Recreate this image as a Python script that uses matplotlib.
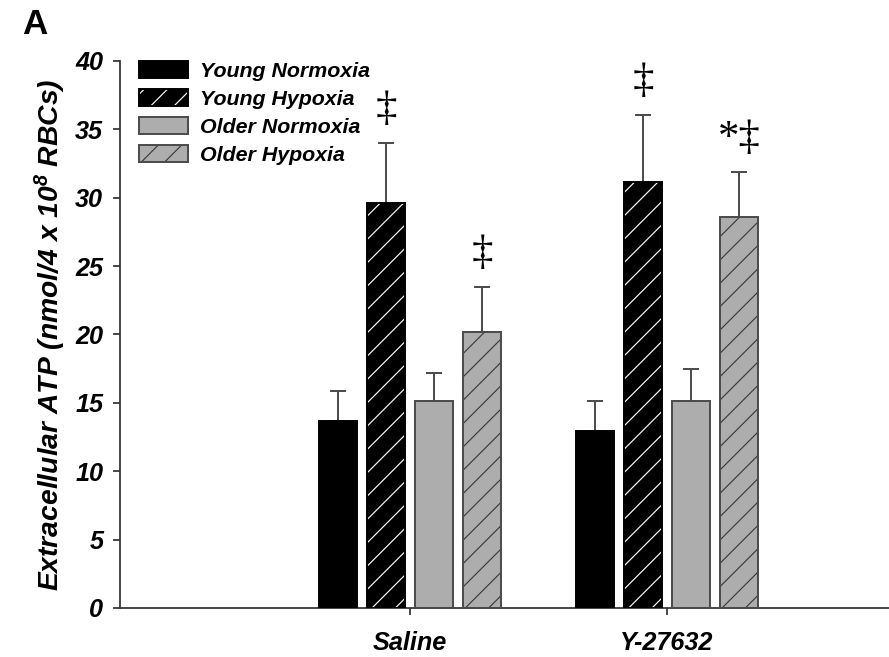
import matplotlib
matplotlib.use("Agg")
import matplotlib.pyplot as plt
import matplotlib.patches as mpatches
import numpy as np

groups = ["Saline", "Y-27632"]
series = ["Young Normoxia", "Young Hypoxia", "Older Normoxia", "Older Hypoxia"]
young_norm = [13.7, 12.95]
young_norm_err = [2.2, 2.2]
young_hyp = [29.6, 31.15]
young_hyp_err = [4.4, 4.9]
older_norm = [15.1, 15.1]
older_norm_err = [2.1, 2.4]
older_hyp = [20.2, 28.6]
older_hyp_err = [3.3, 3.3]
young_hyp_marks = ["\u2021", "\u2021"]
older_hyp_marks = ["\u2021", "*\u2021"]

plt.rcParams["font.family"] = ["Liberation Sans", "DejaVu Sans"]
plt.rcParams["hatch.linewidth"] = 0.6
plt.rcParams["mathtext.default"] = "regular"

DPI = 140
fig = plt.figure(figsize=(889 / DPI, 657 / DPI), dpi=DPI)
ax = fig.add_axes([0.135, 0.0746, 0.865, 0.8326])

x = np.arange(1, len(groups) + 1)
width = 0.148
offsets = [-0.28, -0.093, 0.093, 0.28]
gray = "#adadad"
styles = [
    # face, hatch colour, hatch, outline
    ("black", "black", "", "black"),
    ("black", "white", "//", "black"),
    (gray, gray, "", "#4a4a4a"),
    (gray, "#3a3a3a", "//", "#4a4a4a"),
]
values = [young_norm, young_hyp, older_norm, older_hyp]
errors = [young_norm_err, young_hyp_err, older_norm_err, older_hyp_err]

handles = []
for (face, hcol, hatch, edge), vals, errs, off in zip(styles, values, errors, offsets):
    pos = x + off
    ax.bar(pos, vals, width, color=face, edgecolor=hcol, hatch=hatch, linewidth=0, zorder=2)
    ax.bar(pos, vals, width, fill=False, edgecolor=edge, linewidth=1.0, zorder=3)
    ax.errorbar(pos, vals, yerr=[np.zeros(len(errs)), errs], fmt="none",
                ecolor="#4a4a4a", elinewidth=1.0, capsize=4.2, capthick=1.0, zorder=1)
    handles.append((mpatches.Patch(facecolor=face, edgecolor=hcol, hatch=hatch, linewidth=0),
                    mpatches.Patch(fill=False, edgecolor=edge, linewidth=1.0)))

def mark(vals, errs, labels, off):
    for xi, v, e, lab in zip(x + off, vals, errs, labels):
        ax.annotate(lab, (xi, v + e), xytext=(0, 7), textcoords="offset points",
                    ha="center", va="bottom", fontsize=22,
                    family=["Liberation Serif", "DejaVu Serif"])

mark(young_hyp, young_hyp_err, young_hyp_marks, offsets[1])
mark(older_hyp, older_hyp_err, older_hyp_marks, offsets[3])

ax.set_xlim(-0.128, 2.864)
ax.set_ylim(0, 40)
ax.set_yticks(np.arange(0, 41, 5))
ax.set_xticks(x)
ax.set_xticklabels(groups)
ax.spines["top"].set_visible(False)
ax.spines["right"].set_visible(False)
for s in ("left", "bottom"):
    ax.spines[s].set_color("#333333")
    ax.spines[s].set_linewidth(0.9)
ax.tick_params(axis="both", direction="out", length=3.6, width=0.9, color="#333333")
for lab in ax.get_yticklabels() + ax.get_xticklabels():
    lab.set_fontweight("bold")
    lab.set_fontstyle("italic")
    lab.set_fontsize(13)
ax.tick_params(axis="x", pad=8)
ax.tick_params(axis="y", pad=5)
ax.set_ylabel("Extracellular ATP (nmol/4 x 10$^{8}$ RBCs)", fontsize=14.5,
              fontweight="bold", fontstyle="italic", labelpad=4)

ax.legend(handles, series, loc="upper left", bbox_to_anchor=(0.0, 1.035), frameon=False,
          prop={"weight": "bold", "style": "italic", "size": 11},
          handlelength=2.3, handleheight=0.85, handletextpad=0.55, labelspacing=0.38)

fig.text(0.025, 0.948, "A", fontsize=18, fontweight="bold")

fig.savefig("out.png", dpi=DPI)
